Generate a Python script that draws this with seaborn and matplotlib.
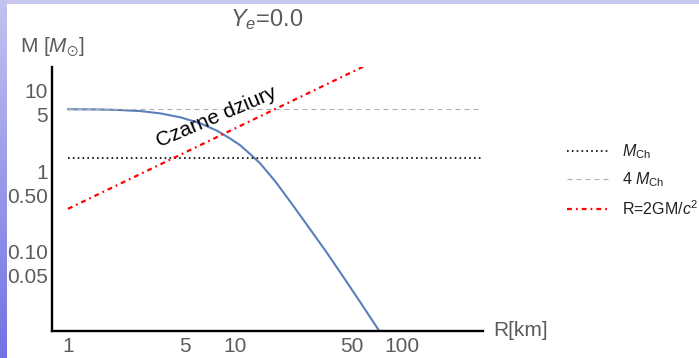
import numpy as np
import matplotlib.pyplot as plt
import seaborn as sns
from matplotlib.ticker import FixedLocator, FixedFormatter, NullFormatter

# mass-radius curve for Y_e = 0
radius_km = [1.0, 1.5, 2.0, 2.25, 2.7, 3.55, 4.7, 6.2, 7.8, 9.3, 10.7, 12.3,
             14.1, 16.2, 17.8, 22.3, 28.1, 35.4, 44.6, 56.1, 73.0]
mass_sun = [5.85, 5.82, 5.74, 5.66, 5.56, 5.21, 4.65, 3.91, 3.17, 2.55, 2.10, 1.63,
            1.25, 0.89, 0.70, 0.37, 0.19, 0.097, 0.048, 0.0236, 0.0103]

# reference lines
limit_r = [1, 300]
m_ch = [1.46, 1.46]
four_m_ch = [5.84, 5.84]
bh_r = [1, 60]
bh_m = [0.339, 20.3]

x_ticks = [1, 5, 10, 50, 100]
x_tick_labels = ["1", "5", "10", "50", "100"]
y_ticks = [0.05, 0.1, 0.5, 1, 5, 10]
y_tick_labels = ["0.05", "0.10", "0.50", "1", "5", "10"]

sns.set_style("white")
plt.rcParams["font.family"] = ["Liberation Sans", "DejaVu Sans"]
plt.rcParams["mathtext.fontset"] = "custom"
plt.rcParams["mathtext.rm"] = "Liberation Sans"
plt.rcParams["mathtext.it"] = "Liberation Sans:italic"
plt.rcParams["mathtext.fallback"] = "stixsans"

gray = "#5c5c5c"
W, H = 699, 358
fig = plt.figure(figsize=(W / 100, H / 100), dpi=100)

# slide background bits: top band and left gradient strip
top = fig.add_axes([0, 1 - 4 / H, 1, 4 / H])
top.set_facecolor("#c9c9f0")
top.set_xticks([]); top.set_yticks([])
for s in top.spines.values():
    s.set_visible(False)
strip = fig.add_axes([0, 0, 7 / W, 1])
grad = np.linspace(0, 1, 100).reshape(-1, 1)
strip.imshow(grad, aspect="auto", cmap=sns.blend_palette(["#c2c2ef", "#7272e4"], as_cmap=True))
strip.axis("off")

ax = fig.add_axes([52 / W, 27 / H, 431 / W, 264 / H])
ax.set_xscale("log")
ax.set_yscale("log")

sns.lineplot(x=radius_km, y=mass_sun, color="#5b7fba", lw=1.5, ax=ax, sort=False)
sns.lineplot(x=limit_r, y=m_ch, color="black", lw=1.2, ax=ax, label="$M_{\\mathrm{Ch}}$")
ax.lines[-1].set_dashes((1, 1.9))
sns.lineplot(x=limit_r, y=four_m_ch, color="#b0b0b0", lw=0.8, ax=ax, label="4 $M_{\\mathrm{Ch}}$")
ax.lines[-1].set_dashes((4.5, 3.6))
sns.lineplot(x=bh_r, y=bh_m, color="red", lw=1.6, ax=ax, label="R=2GM/$c^2$")
ax.lines[-1].set_dashes((2.2, 1.8, 0.8, 1.8))

ax.set_xlim(0.802, 305)
ax.set_ylim(0.0103, 19.6)

ax.text(7.7, 4.69, "Czarne dziury", rotation=23, rotation_mode="anchor",
        ha="center", va="center", fontsize=15, color="black")

for s in ["top", "right"]:
    ax.spines[s].set_visible(False)
for s in ["left", "bottom"]:
    ax.spines[s].set_color("black")
    ax.spines[s].set_linewidth(1.7)

ax.xaxis.set_major_locator(FixedLocator(x_ticks))
ax.xaxis.set_major_formatter(FixedFormatter(x_tick_labels))
ax.yaxis.set_major_locator(FixedLocator(y_ticks))
ax.yaxis.set_major_formatter(FixedFormatter(y_tick_labels))
x_minor = [m * 10 ** e for e in range(0, 3) for m in range(2, 10)]
y_minor = [m * 10 ** e for e in range(-2, 2) for m in range(1, 10)]
ax.xaxis.set_minor_locator(FixedLocator(x_minor))
ax.yaxis.set_minor_locator(FixedLocator(y_minor))
ax.xaxis.set_minor_formatter(NullFormatter())
ax.yaxis.set_minor_formatter(NullFormatter())
ax.tick_params(which="major", direction="in", length=4, width=0.8, color="#aaaaaa",
               labelsize=15, labelcolor=gray)
ax.tick_params(which="minor", direction="in", length=2.5, width=0.6, color="#c0c0c0")
ax.tick_params(axis="y", which="major", pad=3)
ax.tick_params(axis="x", which="major", pad=4)

handles, labels = ax.get_legend_handles_labels()
ax.get_legend().remove()
fig.legend(handles, labels, loc="center left", bbox_to_anchor=(0.791, 0.497),
           frameon=False, fontsize=11.5, handlelength=2.7, handletextpad=0.75,
           labelspacing=0.6, labelcolor="#222222")

fig.text(267 / W, 1 - 20 / H, "$Y_e$=0.0", ha="center", va="center", fontsize=17, color=gray)
fig.text(20 / W, 1 - 47 / H, "M [$M_{\\odot}$]", ha="left", va="center", fontsize=15, color=gray)
fig.text(493 / W, 27 / H, "R[km]", ha="left", va="center", fontsize=15, color=gray)

fig.savefig("out.png", dpi=100)
